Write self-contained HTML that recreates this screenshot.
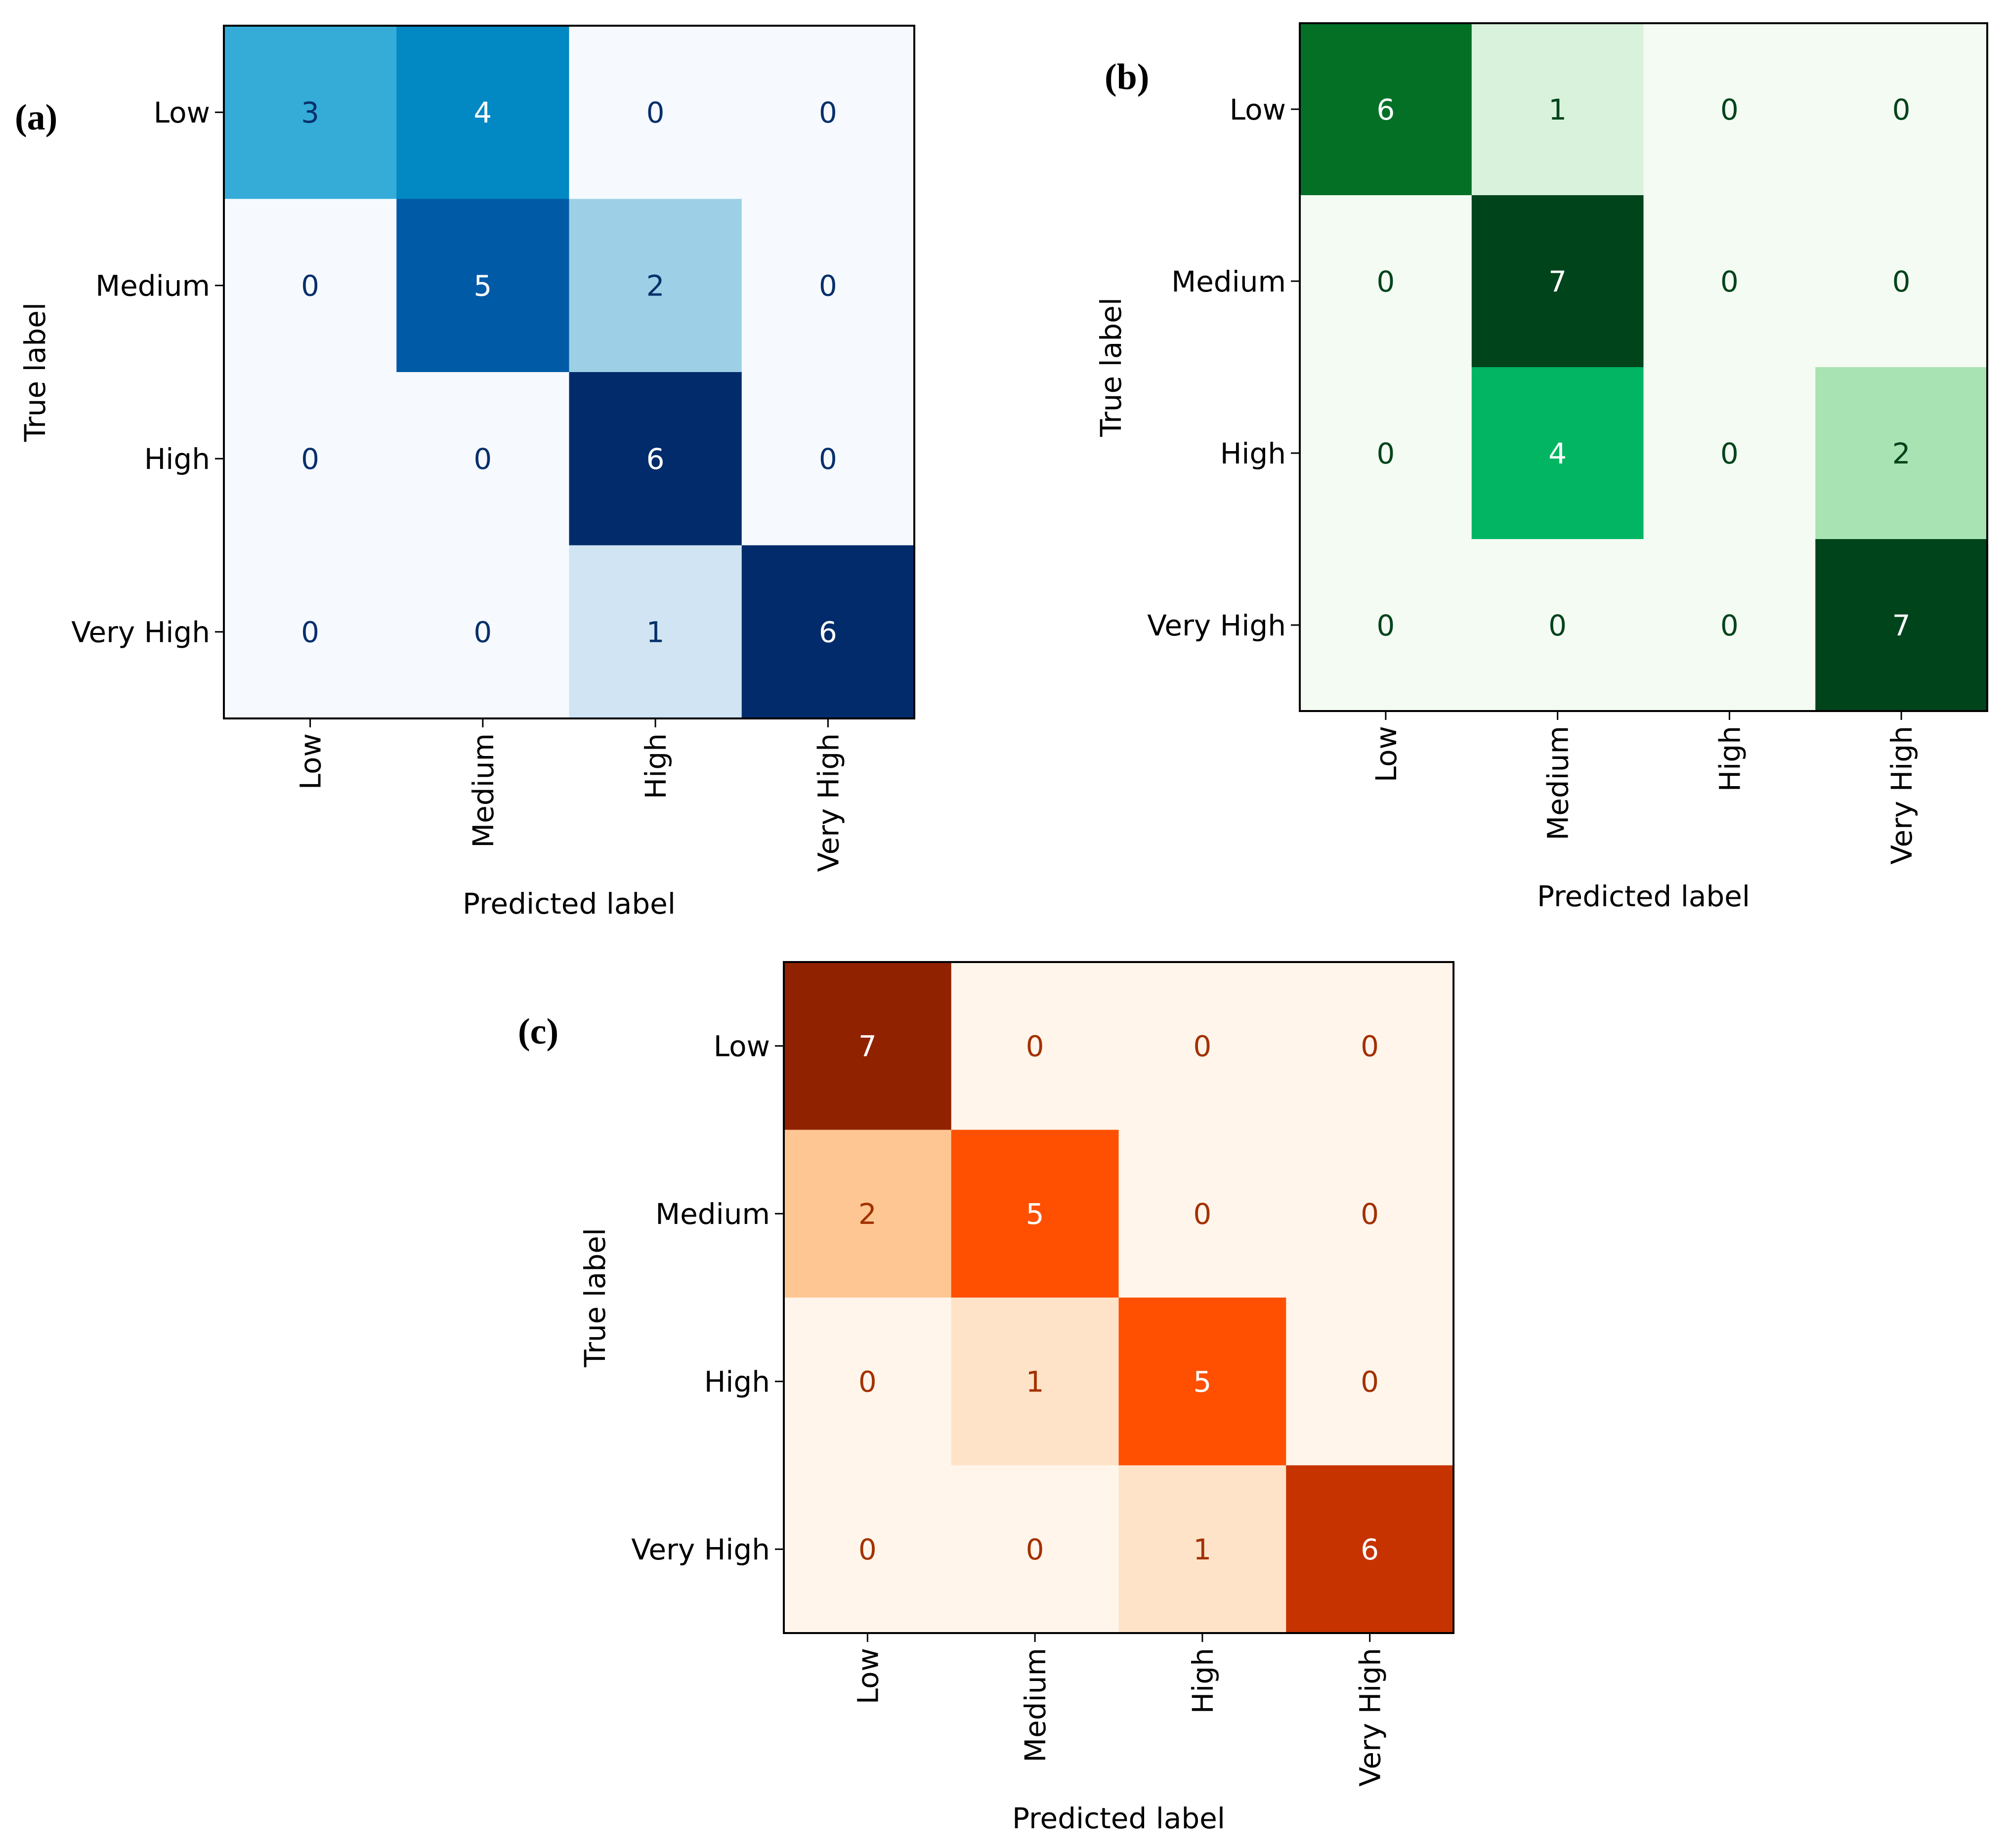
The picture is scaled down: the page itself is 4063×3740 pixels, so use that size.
<!DOCTYPE html>
<html><head><meta charset="utf-8"><style>
html,body{margin:0;padding:0;background:#fff;}
svg{display:block;}
text{font-family:"DejaVu Sans","Liberation Sans",sans-serif;}
.pl{font-family:"Liberation Serif",serif;font-weight:bold;font-size:74px;}
</style></head><body>
<svg id="fig" width="4063" height="3740" viewBox="0 0 4063 3740" xmlns="http://www.w3.org/2000/svg"></svg>
<script>
const categories = ["Low", "Medium", "High", "Very High"];
const valuesA = [[3,4,0,0],[0,5,2,0],[0,0,6,0],[0,0,1,6]];
const valuesB = [[6,1,0,0],[0,7,0,0],[0,4,0,2],[0,0,0,7]];
const valuesC = [[7,0,0,0],[2,5,0,0],[0,1,5,0],[0,0,1,6]];
const colorsA = {0:"#f6faff",1:"#d0e4f3",2:"#9dd0e6",3:"#34acd7",4:"#0288c2",5:"#015aa5",6:"#022b6b",7:"#08306b"};
const colorsB = {0:"#f4fbf2",1:"#d9f2db",2:"#a8e3b3",3:"#4ccf7f",4:"#01b562",5:"#02913a",6:"#037026",7:"#00441b"};
const colorsC = {0:"#fff5eb",1:"#fee3c8",2:"#fdc692",3:"#fd9c52",4:"#fd7a2a",5:"#fe5000",6:"#c63300",7:"#912200"};
const NS = "http://www.w3.org/2000/svg";
const fig = document.getElementById('fig');
const FS = 58;
function mk(tag, attrs, parent){const e=document.createElementNS(NS,tag);for(const k in attrs)e.setAttribute(k,attrs[k]);(parent||fig).appendChild(e);return e;}
function panel(id, label, vals, cols, darkText, x0, y0, x1, y1, labX, labY){
  const g = mk('g',{});
  
  
  const n = categories.length, cw=(x1-x0)/n, ch=(y1-y0)/n;
  const xs = i => x0 + cw*(i+0.5), ys = j => y0 + ch*(j+0.5);
  for(let r=0;r<n;r++)for(let c=0;c<n;c++){
    const v = vals[r][c];
    const rect = mk('rect',{x:x0+cw*c,y:y0+ch*r,width:cw+0.5,height:ch+0.5,fill:cols[v]},g);
    
    
    const t = mk('text',{x:xs(c),y:ys(r)+FS*0.36,'text-anchor':'middle','font-size':FS,fill:(v>=4?'#ffffff':darkText)},g);
    t.textContent = v;
    
    
  }
  const fr = mk('rect',{x:x0,y:y0,width:x1-x0,height:y1-y0,fill:'none',stroke:'#000','stroke-width':4},g);
  
  
  categories.forEach((cat,i)=>{
    mk('line',{x1:x0,x2:x0-18,y1:ys(i),y2:ys(i),stroke:'#000','stroke-width':3},g);
    const yl = mk('text',{x:x0-28,y:ys(i)+FS*0.36,'text-anchor':'end','font-size':FS,fill:'#000'},g);
    yl.textContent = cat;
    
    
    mk('line',{x1:xs(i),x2:xs(i),y1:y1,y2:y1+18,stroke:'#000','stroke-width':3},g);
    const xl = mk('text',{x:0,y:0,'text-anchor':'end','font-size':FS,fill:'#000',transform:`translate(${xs(i)+FS*0.36},${y1+30}) rotate(-90)`},g);
    xl.textContent = cat;
    
    
  });
  const xt = mk('text',{x:(x0+x1)/2,y:y1+395,'text-anchor':'middle','font-size':FS,fill:'#000'},g);
  xt.textContent = 'Predicted label';
  
  
  const yt = mk('text',{x:0,y:0,'text-anchor':'middle','font-size':FS,fill:'#000',transform:`translate(${x0-362},${(y0+y1)/2}) rotate(-90)`},g);
  yt.textContent = 'True label';
  
  
  const pl = mk('text',{x:labX,y:labY,'class':'pl',fill:'#000'},g);
  pl.textContent = label;
  
  
}
panel('panel-a','(a)',valuesA,colorsA,'#08306b',453,52,1850,1454,30,262);
panel('panel-b','(b)',valuesB,colorsB,'#00441b',2630,47,4021,1439,2235,180);
panel('panel-c','(c)',valuesC,colorsC,'#a33100',1586,1947,2941,3305,1048,2112);
</script>
</body></html>
